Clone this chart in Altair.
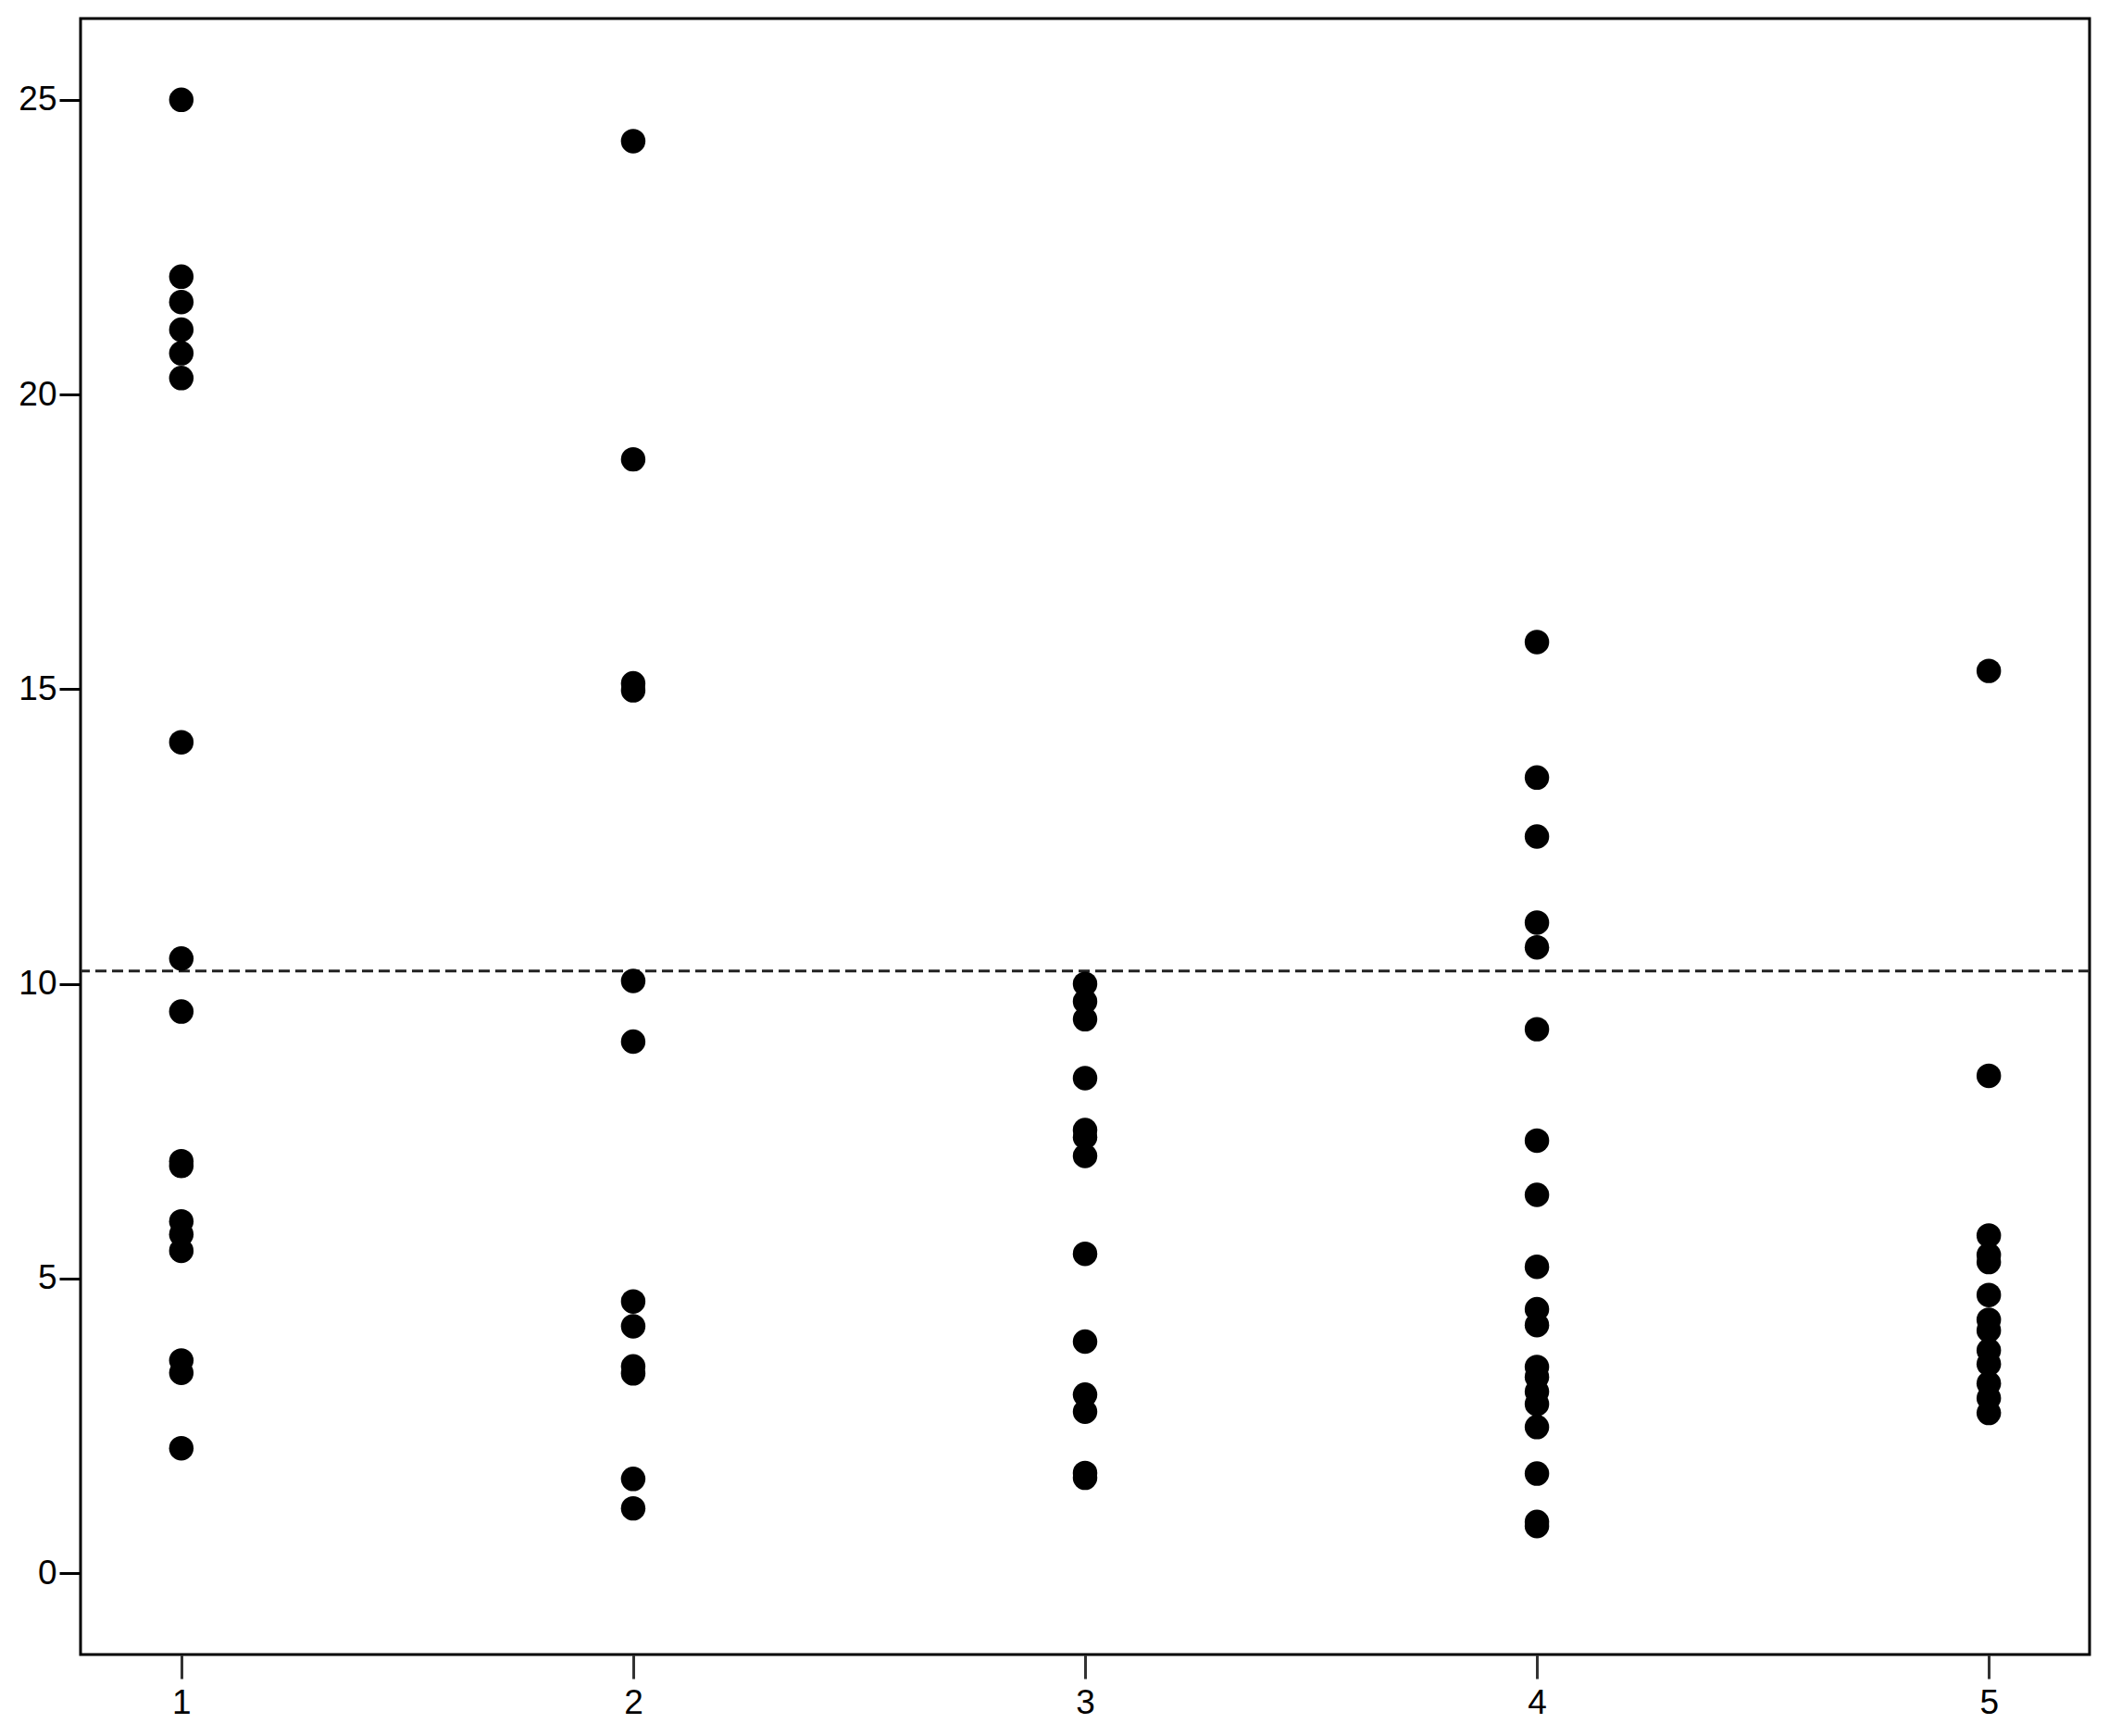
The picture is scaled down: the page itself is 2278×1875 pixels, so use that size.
import altair as alt
import pandas as pd

# Values
group_ids = [1, 2, 3, 4, 5]
g1 = [25.0, 22.0, 21.57, 21.1, 20.7, 20.28, 14.1, 10.43, 9.53, 6.99, 6.91,
      5.97, 5.75, 5.47, 3.61, 3.40, 2.12]
g2 = [24.3, 18.9, 15.1, 14.98, 10.05, 9.02, 4.61, 4.19, 3.51, 3.39, 1.6, 1.1]
g3 = [10.0, 9.7, 9.4, 8.4, 7.52, 7.4, 7.08, 5.42, 3.93, 3.03, 2.74, 1.7, 1.62]
g4 = [15.8, 13.5, 12.5, 11.04, 10.62, 9.23, 7.34, 6.42, 5.2, 4.48, 4.21,
      3.5, 3.33, 3.08, 2.87, 2.48, 1.69, 0.87, 0.8]
g5 = [15.31, 8.44, 5.73, 5.4, 5.28, 4.72, 4.3, 4.12, 3.78, 3.55, 3.22,
      2.97, 2.72]
reference_value = [10.22]
x_ticks = [1, 2, 3, 4, 5]
y_ticks = [0, 5, 10, 15, 20, 25]

groups = [g1, g2, g3, g4, g5]
rows = []
for gid, vals in zip(group_ids, groups):
    for v in vals:
        rows.append({"group": gid, "value": v})
df = pd.DataFrame(rows)
ref_df = pd.DataFrame({"ref": reference_value})

FONT = "Liberation Sans"

x_scale = alt.Scale(domain=[0.777, 5.223], nice=False, zero=False)
y_scale = alt.Scale(domain=[-1.38, 26.38], nice=False, zero=False)

points = alt.Chart(df).mark_circle(size=700, color="#000000", opacity=1).encode(
    x=alt.X("group:Q", scale=x_scale,
            axis=alt.Axis(values=x_ticks, format="d", title=None, grid=False,
                          domain=False, tickSize=26, tickWidth=3,
                          tickColor="#333333", labelFontSize=37,
                          labelFont=FONT, labelColor="#000000",
                          labelPadding=8)),
    y=alt.Y("value:Q", scale=y_scale,
            axis=alt.Axis(values=y_ticks, format="d", title=None, grid=False,
                          domain=False, tickSize=23, tickWidth=3,
                          tickColor="#000000", labelFontSize=37,
                          labelFont=FONT, labelColor="#000000",
                          labelPadding=3, labelBaseline="middle")),
)

rule = alt.Chart(ref_df).mark_rule(color="#222222", strokeWidth=3,
                                   strokeDash=[12, 6]).encode(
    y=alt.Y("ref:Q", scale=y_scale)
)

chart = alt.layer(rule, points).properties(
    width=2170,
    height=1767,
    autosize=alt.AutoSizeParams(type="none"),
    padding={"left": 79, "top": 12, "right": 10, "bottom": 70},
    background="#ffffff",
).configure_view(
    stroke="#000000",
    strokeWidth=3,
)

chart.save("out.html", embed_options={"renderer": "svg", "actions": False})
